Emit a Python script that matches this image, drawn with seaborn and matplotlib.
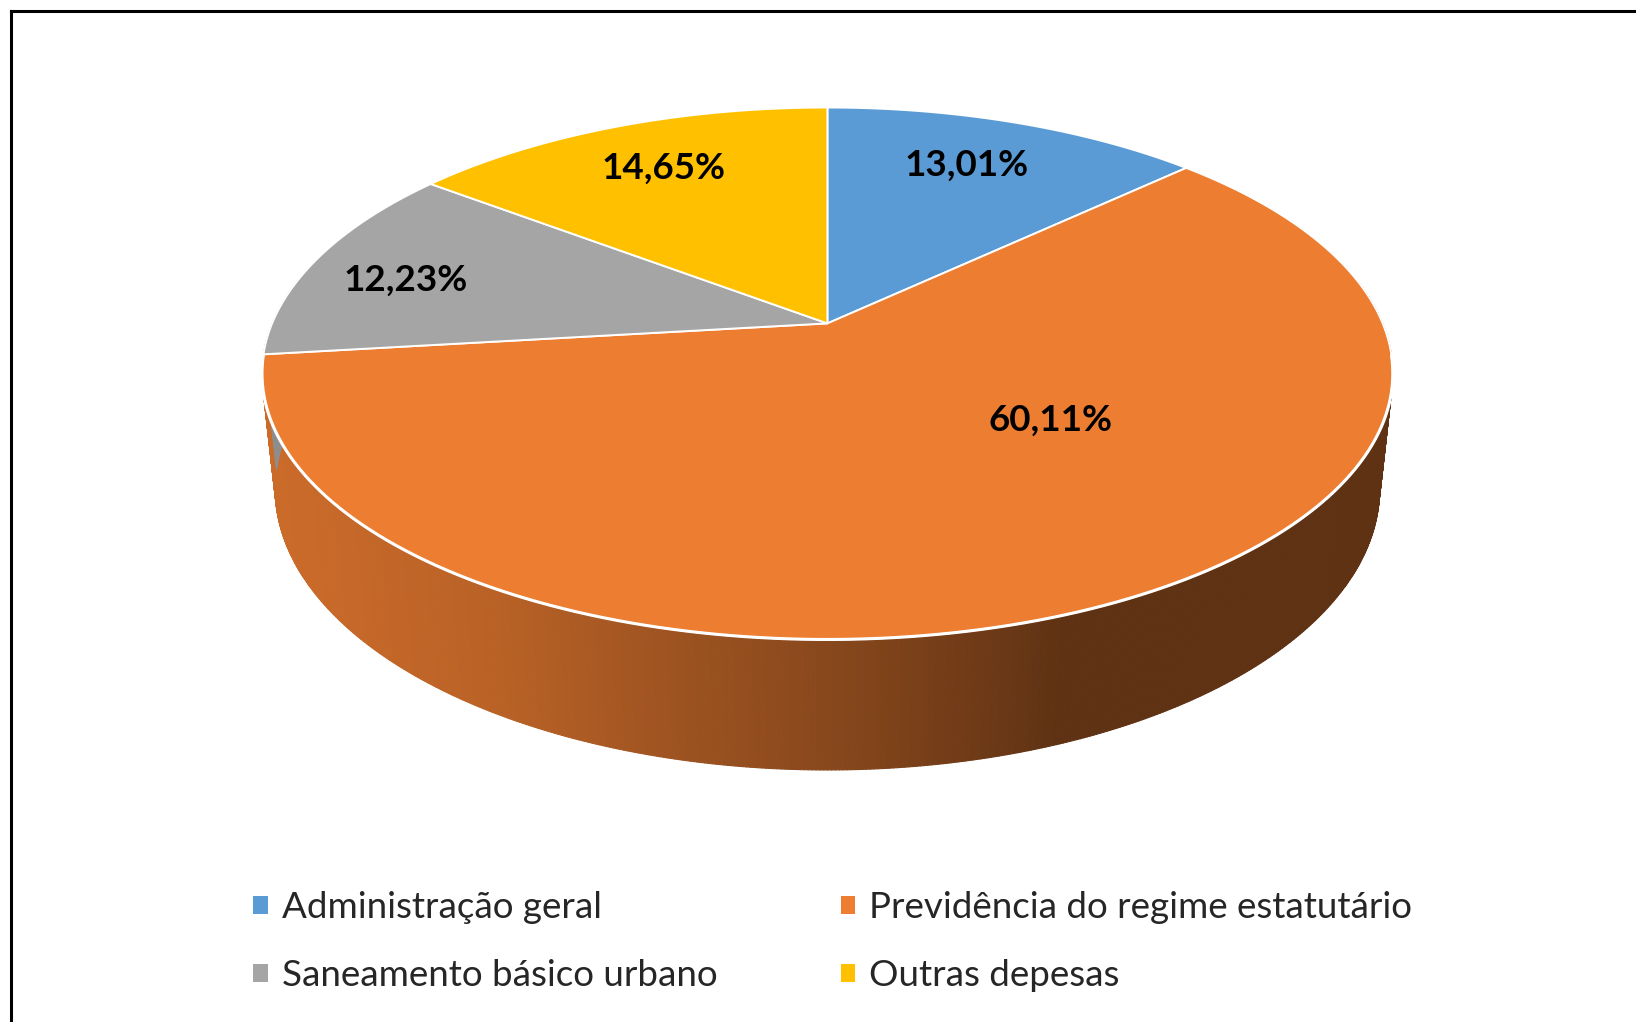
import numpy as np
import matplotlib
matplotlib.use("Agg")
import matplotlib.pyplot as plt
import seaborn as sns
from matplotlib.patches import Patch, Polygon
from matplotlib.collections import PolyCollection

sns.set_theme(style="white")
plt.rcParams['font.family'] = ['Lato', 'DejaVu Sans']

# ---------------- data ----------------
categories = ["Administração geral", "Previdência do regime estatutário",
              "Saneamento básico urbano", "Outras depesas"]
values = [13.01, 60.11, 12.23, 14.65]
colors = ["#5B9BD5", "#ED7D31", "#A5A5A5", "#FFC000"]

# ---------------- layout (pixel space) ----------------
W, H = 1636, 1022
label_pos = [(967, 165), (1050, 420), (406, 280), (664, 168)]

# perspective camera for the 3D pie
cx, cy0 = 827.4, 323.4
Fp = 555.3
ca, sa = 0.887, 0.462
Dd = 4.71
thick = 0.236


def proj(theta_deg, Y=0.0, r=1.0):
    t = np.radians(theta_deg)
    X = r * np.sin(t)
    Z = r * np.cos(t)
    w = 1 + (Z * ca - Y * sa) / Dd
    sx = cx + Fp * X / w
    sy = cy0 - Fp * (Y * ca + Z * sa) / w
    return sx, sy


# shading of the side wall as a function of screen x
shade_x = [250, 300, 500, 650, 850, 1000, 1060, 1400]
shade_f = [0.86, 0.85, 0.78, 0.68, 0.56, 0.45, 0.40, 0.40]


def shade(color, x):
    rgb = np.array(matplotlib.colors.to_rgb(color))
    f = np.interp(x, shade_x, shade_f)
    return tuple(np.clip(rgb * f, 0, 1))


fig = plt.figure(figsize=(W / 100, H / 100), dpi=100)
ax = fig.add_axes([0, 0, 1, 1])
ax.set_xlim(0, W)
ax.set_ylim(H, 0)
ax.axis("off")

total = sum(values)
bounds = np.concatenate([[0], np.cumsum(values) / total * 360.0])

# side walls (only the front part is visible)
quads, qcols = [], []
for i, c in enumerate(colors):
    a0, a1 = max(bounds[i], 80), min(bounds[i + 1], 280)
    if a1 <= a0:
        continue
    th = np.linspace(a0, a1, max(2, int((a1 - a0) * 3)))
    for t0, t1 in zip(th[:-1], th[1:]):
        p = [proj(t0, 0), proj(t1, 0), proj(t1, -thick), proj(t0, -thick)]
        quads.append(p)
        xm = np.mean([q[0] for q in p])
        qcols.append(shade(c, xm))
pc = PolyCollection(quads, facecolors=qcols, edgecolors=qcols, linewidths=0.8,
                    antialiased=True)
ax.add_collection(pc)

# top face wedges
for i, c in enumerate(colors):
    th = np.linspace(bounds[i], bounds[i + 1], 300)
    pts = [(cx, cy0)] + [proj(t, 0) for t in th]
    ax.add_patch(Polygon(pts, closed=True, facecolor=c, edgecolor="white",
                         linewidth=1.4, joinstyle="round"))

# white rim on the front edge
th = np.linspace(97, 263, 400)
rim = np.array([proj(t, 0) for t in th])
ax.plot(rim[:, 0], rim[:, 1], color="white", lw=2.2, solid_capstyle="round")

# data labels
for v, (lx, ly) in zip(values, label_pos):
    ax.text(lx, ly, f"{v:.2f}%".replace(".", ","), ha="center", va="center",
            fontsize=26.5, fontweight="bold", color="black")

# frame (only top and left edges are visible in the crop)
ax.plot([11, 11], [H + 5, 11], color="black", lw=2.2, clip_on=False,
        solid_capstyle="projecting")
ax.plot([11, W + 5], [11, 11], color="black", lw=2.2, clip_on=False,
        solid_capstyle="projecting")

# legend (column-wise filling: col1 = items 0,2 ; col2 = items 1,3)
order = [0, 2, 1, 3]
handles = [Patch(facecolor=colors[k], edgecolor="none") for k in order]
labels = [categories[k] for k in order]
fig.legend(handles, labels, ncol=2, loc="upper left",
           bbox_to_anchor=(253 / W, 1 - 891 / H), frameon=False,
           fontsize=26.5, handlelength=0.4, handleheight=0.4,
           handletextpad=0.38, columnspacing=3.35, labelspacing=0.95,
           borderpad=0, borderaxespad=0)

fig.savefig("out.png", dpi=100, facecolor="white")
